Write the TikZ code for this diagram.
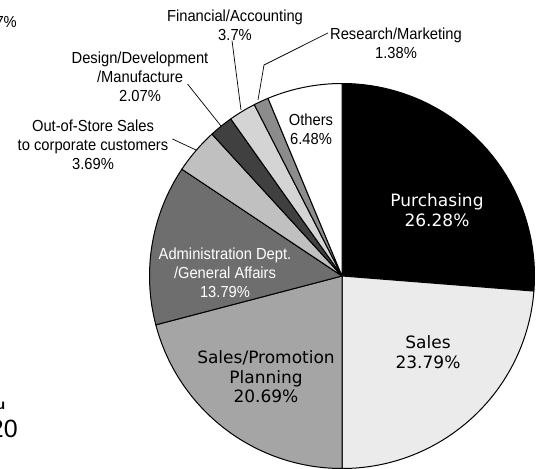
\documentclass[tikz,border=0pt]{standalone}
\usepackage{fontspec}
\setmainfont{Liberation Sans}
\newfontfamily\narrowfont[FakeStretch=0.92]{Liberation Sans}
\newfontfamily\widefont{DejaVu Sans}
\usetikzlibrary{positioning}
\definecolor{salesgray}{RGB}{235,235,235}
\definecolor{promogray}{RGB}{165,165,165}
\definecolor{admingray}{RGB}{110,110,110}
\definecolor{storegray}{RGB}{192,192,192}
\definecolor{designgray}{RGB}{64,64,64}
\definecolor{financegray}{RGB}{212,212,212}
\definecolor{researchgray}{RGB}{140,140,140}

\tikzset{
  slice/.style={draw=black, line width=1pt, line join=round},
  outlabel/.style={font=\narrowfont\fontsize{16}{19}\selectfont, align=center, inner sep=0pt},
  inlabel/.style={font=\widefont\fontsize{17}{19.5}\selectfont, align=center, inner sep=0pt},
  leader/.style={draw=black, line width=0.7pt}
}

\begin{document}
\begin{tikzpicture}[x=1pt, y=-1pt]
\useasboundingbox (0,0) rectangle (537,468);
\coordinate (c) at (342,276);

% Pie slices (y runs downwards, so angles are negated)
\filldraw[slice, fill=black] (c) -- ++(-90:192.5) arc[start angle=-90, end angle=4.5, radius=192.5] -- cycle;
\filldraw[slice, fill=salesgray] (c) -- ++(4.5:192.5) arc[start angle=4.5, end angle=90, radius=192.5] -- cycle;
\filldraw[slice, fill=promogray] (c) -- ++(90:192.5) arc[start angle=90, end angle=165.3, radius=192.5] -- cycle;
\filldraw[slice, fill=admingray] (c) -- ++(165.3:192.5) arc[start angle=165.3, end angle=213.7, radius=192.5] -- cycle;
\filldraw[slice, fill=storegray] (c) -- ++(213.7:192.5) arc[start angle=213.7, end angle=227.5, radius=192.5] -- cycle;
\filldraw[slice, fill=designgray] (c) -- ++(227.5:192.5) arc[start angle=227.5, end angle=234.7, radius=192.5] -- cycle;
\filldraw[slice, fill=financegray] (c) -- ++(234.7:192.5) arc[start angle=234.7, end angle=242.9, radius=192.5] -- cycle;
\filldraw[slice, fill=researchgray] (c) -- ++(242.9:192.5) arc[start angle=242.9, end angle=247.4, radius=192.5] -- cycle;
\filldraw[slice, fill=white] (c) -- ++(247.4:192.5) arc[start angle=247.4, end angle=270, radius=192.5] -- cycle;

% Labels inside
\node[inlabel, text=white] (pur) at (437,210) {Purchasing\\26.28\%};
\node[inlabel] (sal) at (428,352) {Sales\\23.79\%};
\node[inlabel] (spp) at (266,377) {Sales/Promotion\\Planning\\20.69\%};
\node[outlabel, text=white] (adm) at (225,273) {Administration Dept.\\/General Affairs\\13.79\%};
\node[outlabel] (oth) at (311,129) {Others\\6.48\%};

% Labels outside
\node[outlabel] (fin) at (235,25) {Financial/Accounting\\3.7\%};
\node[outlabel] (res) at (396,43) {Research/Marketing\\1.38\%};
\node[outlabel] (des) at (140,77) {Design/Development\\/Manufacture\\2.07\%};
\node[outlabel] (oos) at (93,145) {Out-of-Store Sales\\to corporate customers\\3.69\%};

% Leader lines
\coordinate (fin-tip) at (241,110);
\coordinate (res-bend) at (264,65);
\coordinate (res-tip) at (258,100);
\coordinate (des-tip) at (221,126);
\coordinate (oos-tip) at (196,150);
\draw[leader] ([xshift=-3pt]fin.south) -- (fin-tip);
\draw[leader] ([shift={(-2pt,10pt)}]res.west) -- (res-bend) -- (res-tip);
\draw[leader] ([shift={(-21pt,-7pt)}]des.east) -- (des-tip);
\draw[leader] ([shift={(4pt,6pt)}]oos.east) -- (oos-tip);

% Cut-off text at the edges
\node[outlabel, anchor=east] (frag-a) at (17,22) {7\%};
\node[anchor=east, inner sep=0pt, font=\bfseries\fontsize{14}{16}\selectfont] (frag-b) at (5.5,406) {u};
\node[anchor=east, inner sep=0pt, font=\fontsize{25}{28}\selectfont] (frag-c) at (18,429) {20};
\end{tikzpicture}
\end{document}
